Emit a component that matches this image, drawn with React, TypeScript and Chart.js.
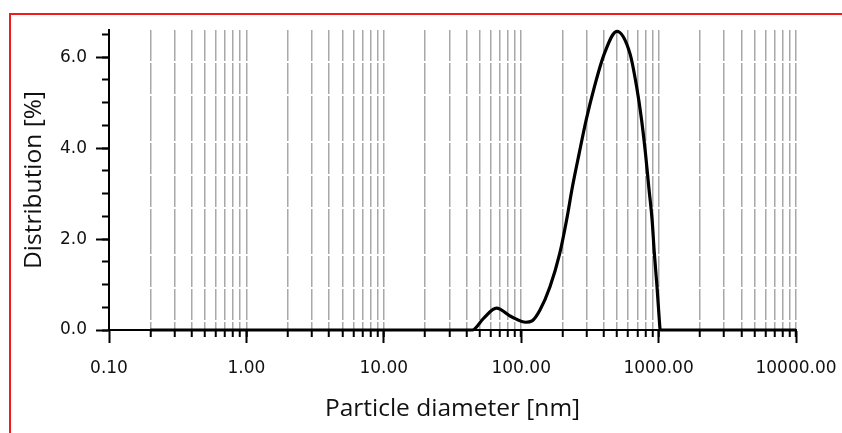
import React, { useEffect, useRef } from "react";
import { Chart, registerables } from "chart.js";

Chart.register(...registerables);

// Particle diameter [nm] and distribution [%]
const diameters = [
  0.2, 1, 10, 44, 53, 66, 85, 108, 120, 137, 162, 191, 214, 236, 264, 297, 341, 403, 497,
  619, 692, 752, 803, 848, 897, 931, 974, 1012, 1028, 10000,
];
const distribution = [
  0, 0, 0, 0, 0.25, 0.48, 0.29, 0.17, 0.2, 0.44, 0.95, 1.69, 2.42, 3.15, 3.88, 4.62, 5.35, 6.08, 6.57,
  6.08, 5.35, 4.62, 3.88, 3.15, 2.42, 1.69, 0.95, 0.22, 0, 0,
];

// Axis ticks
const xMajorTicks = [0.1, 1, 10, 100, 1000, 10000];
const xMinorTicks = [
  0.2, 0.3, 0.4, 0.5, 0.6, 0.7, 0.8, 0.9, 1,
  2, 3, 4, 5, 6, 7, 8, 9, 10,
  20, 30, 40, 50, 60, 70, 80, 90, 100,
  200, 300, 400, 500, 600, 700, 800, 900, 1000,
  2000, 3000, 4000, 5000, 6000, 7000, 8000, 9000, 10000,
];
const yMajorTicks = [0, 2, 4, 6];
const yMinorTicks = [0, 0.5, 1, 1.5, 2, 2.5, 3, 3.5, 4, 4.5, 5, 5.5, 6, 6.5];

const X_MIN = 0.1;
const X_MAX = 10000;
const Y_MIN = 0;
const Y_MAX = 6.6;

const tickFont = { family: "'DejaVu Sans', sans-serif", size: 17 };
const titleFont = { family: "'Open Sans', sans-serif", size: 24.5 };

export default function App() {
  const ref = useRef<HTMLCanvasElement>(null);

  useEffect(() => {
    const points = diameters.map((d, i) => ({ x: d, y: distribution[i] }));
    const chart = new Chart(ref.current as HTMLCanvasElement, {
      type: "line",
      data: {
        datasets: [
          {
            data: points,
            xAxisID: "x",
            yAxisID: "y",
            borderColor: "#000",
            borderWidth: 3.2,
            pointRadius: 0,
            fill: false,
            cubicInterpolationMode: "monotone",
            clip: 4,
          } as any,
        ],
      },
      options: {
        animation: false,
        responsive: false,
        devicePixelRatio: 1,
        layout: { padding: { top: 30, right: 46, left: 0, bottom: 0 } },
        plugins: { legend: { display: false }, tooltip: { enabled: false } },
        scales: {
          x: {
            type: "logarithmic",
            position: "bottom",
            weight: 0,
            min: X_MIN,
            max: X_MAX,
            afterBuildTicks: (s: any) => {
              s.ticks = xMinorTicks.map((v) => ({ value: v }));
            },
            afterFit: (s: any) => {
              s.height = 0;
              s.paddingLeft = 0;
              s.paddingRight = 0;
            },
            ticks: { display: false },
            grid: {
              drawOnChartArea: true,
              drawTicks: true,
              color: "#a8a8a8",
              lineWidth: 1.5,
              tickColor: "#000",
              tickWidth: 2,
              tickLength: 7,
            },
            border: { display: false, dash: [31, 2, 31, 2, 45, 2] },
          } as any,
          x2: {
            type: "logarithmic",
            position: "bottom",
            weight: 1,
            min: X_MIN,
            max: X_MAX,
            afterBuildTicks: (s: any) => {
              s.ticks = xMajorTicks.map((v) => ({ value: v }));
            },
            afterFit: (s: any) => {
              s.height = 103;
              s.paddingLeft = 0;
              s.paddingRight = 0;
            },
            ticks: {
              autoSkip: false,
              maxRotation: 0,
              minRotation: 0,
              padding: 15,
              color: "#111",
              font: tickFont,
              callback: (v: any) => Number(v).toFixed(2),
            },
            grid: {
              drawOnChartArea: false,
              tickColor: "#000",
              tickWidth: 2,
              tickLength: 13,
            },
            border: { display: true, color: "#000", width: 2 },
            title: {
              display: true,
              text: "Particle diameter [nm]",
              color: "#111",
              font: titleFont,
              padding: { top: 0, bottom: 9 },
            },
          } as any,
          y: {
            type: "linear",
            position: "left",
            weight: 0,
            min: Y_MIN,
            max: Y_MAX,
            afterBuildTicks: (s: any) => {
              s.ticks = yMinorTicks.map((v) => ({ value: v }));
            },
            afterFit: (s: any) => {
              s.width = 0;
              s.paddingTop = 0;
              s.paddingBottom = 0;
            },
            ticks: { display: false },
            grid: {
              drawOnChartArea: false,
              drawTicks: true,
              tickColor: "#000",
              tickWidth: 2,
              tickLength: 7,
            },
            border: { display: false },
          } as any,
          y2: {
            type: "linear",
            position: "left",
            weight: 1,
            min: Y_MIN,
            max: Y_MAX,
            afterBuildTicks: (s: any) => {
              s.ticks = yMajorTicks.map((v) => ({ value: v }));
            },
            afterFit: (s: any) => {
              s.width = 109;
              s.paddingTop = 0;
              s.paddingBottom = 0;
            },
            ticks: {
              padding: 9,
              color: "#111",
              font: tickFont,
              callback: (v: any) => Number(v).toFixed(1),
            },
            grid: {
              drawOnChartArea: false,
              tickColor: "#000",
              tickWidth: 2,
              tickLength: 13,
            },
            border: { display: true, color: "#000", width: 2 },
            title: {
              display: true,
              text: "Distribution [%]",
              color: "#111",
              font: titleFont,
              padding: { top: 19, bottom: 0 },
            },
          } as any,
        },
      },
    });
    return () => chart.destroy();
  }, []);

  return (
    <>
      <div
        style={{
          position: "fixed",
          left: 9,
          top: 13,
          width: 900,
          height: 500,
          borderTop: "2px solid #f01c1c",
          borderLeft: "2px solid #f01c1c",
          pointerEvents: "none",
        }}
      />
      <canvas
        ref={ref}
        width={842}
        height={433}
        style={{ position: "fixed", left: 0, top: 0, width: 842, height: 433 }}
      />
    </>
  );
}
